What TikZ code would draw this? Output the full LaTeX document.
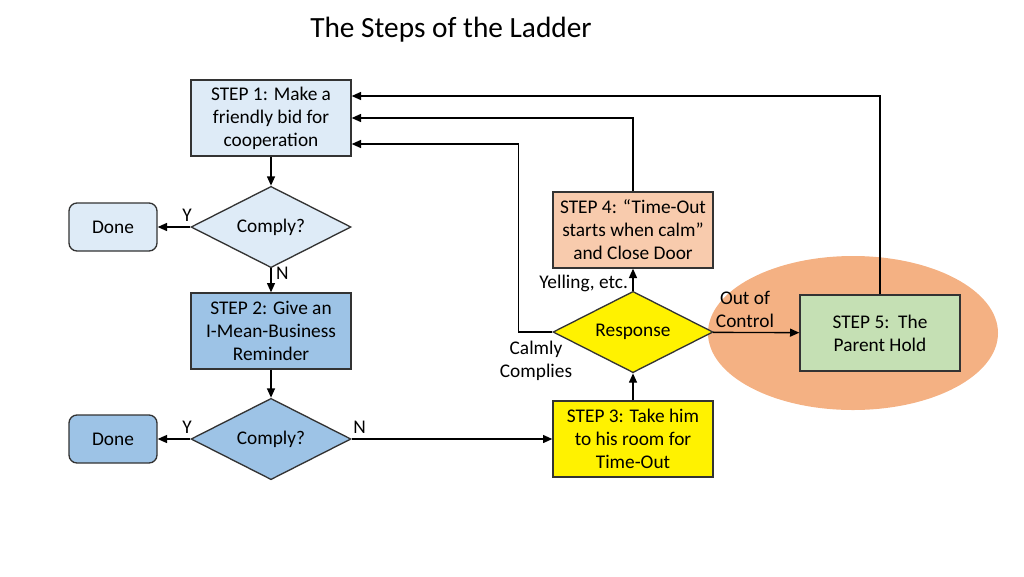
\documentclass[tikz,border=0pt]{standalone}
\usepackage{fontspec}
\setmainfont{Carlito}
\usetikzlibrary{shapes.geometric,arrows.meta}
\definecolor{paleblue}{HTML}{DEEBF7}
\definecolor{midblue}{HTML}{9DC3E6}
\definecolor{peach}{HTML}{F8CBAD}
\definecolor{sage}{HTML}{C5E0B4}
\definecolor{holdorange}{HTML}{F4B183}
\tikzset{
	stepbox/.style={rectangle, minimum width=120pt, minimum height=57pt, inner sep=2pt},
	ask/.style={diamond, aspect=2, minimum width=120pt, minimum height=61pt, inner sep=0pt},
	donebox/.style={rectangle, rounded corners=6pt, minimum width=66pt, minimum height=36pt},
	tip/.style={-{Triangle[length=7pt,width=6pt]}}
}
\begin{document}
\begin{tikzpicture}[x=0.75pt, y=-0.75pt, font=\fontsize{14.5}{17.3}\selectfont]
				\useasboundingbox (0,0) rectangle (1024,576);
				\node (title) at (451,30) {\fontsize{22}{26}\selectfont The Steps of the Ladder};
				\fill[holdorange] (853,333) ellipse [x radius=108.75pt, y radius=57.75pt];
				\begin{scope}[every node/.style={draw=black!80, line width=1pt, align=center}]
					\node (step1)[stepbox, fill=paleblue] at (271,118) {STEP 1: Make a\\friendly bid for\\cooperation};
					\node (comply1)[ask, fill=paleblue] at (271,227) {Comply?};
					\node (done1)[donebox, fill=paleblue] at (113,227) {Done};
					\node (step2)[stepbox, fill=midblue] at (271,331) {STEP 2: Give an\\I-Mean-Business\\Reminder};
					\node (comply2)[ask, fill=midblue] at (271,439) {Comply?};
					\node (done2)[donebox, fill=midblue] at (113,439) {Done};
					\node (step3)[stepbox, fill=yellow] at (633,439) {STEP 3: Take him\\to his room for\\Time-Out};
					\node (response)[ask, fill=yellow] at (633,332) {Response};
					\node (step4)[stepbox, fill=peach] at (633,230) {STEP 4: “Time-Out\\starts when calm”\\and Close Door};
					\node (step5)[stepbox, fill=sage] at (880,333) {STEP 5:\ \ The\\Parent Hold};
				\end{scope}
				\begin{scope}[every edge/.style={draw, line width=1pt, tip}]
					\path (step1) edge (comply1);
					\path (comply1) edge node[pos=0.1, above] {Y} (done1);
					\path (comply1) edge node[pos=0.2, right] {N} (step2);
					\path (step2) edge (comply2);
					\path (comply2) edge node[pos=0.1, above] {Y} (done2);
					\path (comply2) edge node[pos=0.04, above] {N} (step3);
					\path (step3) edge (response);
					\path (response) edge node[pos=0.33, left] {Yelling, etc.} (step4);
					\path (response) edge node[pos=0.37, above, align=center] {Out of\\Control} (step5);
				\end{scope}
				\draw[line width=1pt, tip] (step4.north) |- (step1.east);
				\draw[line width=1pt, tip] (response.west) -- ++(-34,0) |- ([yshift=-19.5pt]step1.east);
				\draw[line width=1pt, tip] (step5.north) |- ([yshift=16.5pt]step1.east);
				\node (calm)[align=center] at (536,361) {Calmly\\Complies};
			\end{tikzpicture}
\end{document}
